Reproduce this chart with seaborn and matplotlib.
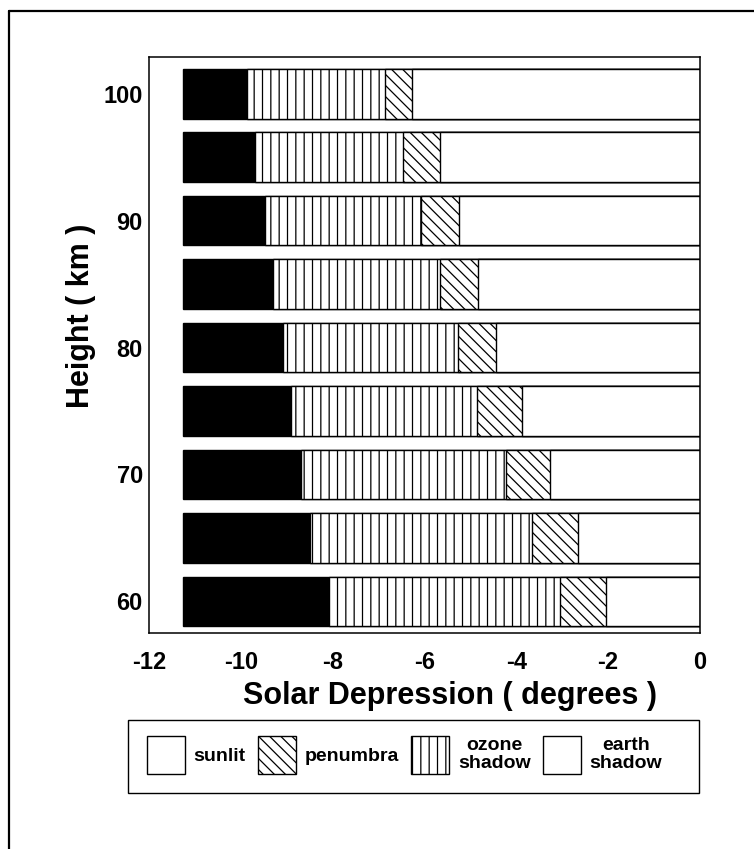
import matplotlib
matplotlib.use("Agg")
import matplotlib.pyplot as plt
from matplotlib.patches import Patch, Rectangle
from matplotlib.lines import Line2D
import pandas as pd
import seaborn as sns

# alturas (km) y limites de cada zona (grados de depresion solar)
heights = [100, 95, 90, 85, 80, 75, 70, 65, 60]
bar_start = [-11.25, -11.25, -11.25, -11.25, -11.25, -11.25, -11.25, -11.25, -11.25]
earth_end = [-9.87, -9.70, -9.48, -9.29, -9.09, -8.90, -8.68, -8.49, -8.07]
ozone_end = [-6.86, -6.47, -6.08, -5.67, -5.28, -4.86, -4.23, -3.65, -3.04]
penumbra_end = [-6.27, -5.67, -5.25, -4.84, -4.45, -3.87, -3.26, -2.65, -2.04]

legend_labels = ["sunlit", "penumbra", "ozone\nshadow", "earth\nshadow"]
x_ticks = [-12, -10, -8, -6, -4, -2, 0]
y_ticks = [60, 70, 80, 90, 100]

sns.set_theme(style="white")
plt.rcParams["font.family"] = ["Liberation Sans", "DejaVu Sans"]
plt.rcParams["font.weight"] = "bold"
plt.rcParams["hatch.linewidth"] = 0.9
for k in ["text.color", "axes.labelcolor", "xtick.color", "ytick.color"]:
    plt.rcParams[k] = "black"

df = pd.DataFrame({
    "height": heights,
    "start": bar_start,
    "earth": earth_end,
    "ozone": ozone_end,
    "penumbra": penumbra_end,
})

fig = plt.figure(figsize=(7.54, 8.49), dpi=100)
ax = fig.add_axes([149 / 754, 1 - 633 / 849, 551 / 754, 576 / 849])

# capas: cada barra va de 0 hasta el valor, se pintan de izquierda a derecha
layers = [
    ("start", "black", None),
    ("earth", "white", "||"),
    ("ozone", "white", "\\\\\\"),
    ("penumbra", "white", None),
]
for col, color, hatch in layers:
    sns.barplot(data=df, x=col, y="height", orient="h", native_scale=True,
                color=color, saturation=1, width=0.78, edgecolor="black",
                linewidth=1.0, hatch=hatch, ax=ax)

ax.set_xlim(-12, 0)
ax.set_ylim(57.5, 102.9)
ax.set_xticks(x_ticks)
ax.set_xticklabels([str(t) for t in x_ticks])
ax.set_yticks(y_ticks)
ax.set_yticklabels([str(t) for t in y_ticks])
ax.tick_params(axis="both", length=0, labelsize=17)
ax.tick_params(axis="x", pad=13)
ax.tick_params(axis="y", pad=4.5)
for lab in ax.get_xticklabels() + ax.get_yticklabels():
    lab.set_fontweight("bold")
for sp in ax.spines.values():
    sp.set_color("black")
    sp.set_linewidth(1.1)

ax.set_xlabel("Solar Depression ( degrees )", fontsize=22, fontweight="bold")
ax.set_ylabel("Height ( km )", fontsize=22, fontweight="bold")
ax.xaxis.set_label_coords((450 - 149) / 551, -0.083)
ax.yaxis.set_label_coords(-0.096, 0.55)

# leyenda
handles = [
    Patch(facecolor="white", edgecolor="black", linewidth=1.0),
    Patch(facecolor="white", edgecolor="black", linewidth=1.0, hatch="\\\\\\"),
    Patch(facecolor="white", edgecolor="black", linewidth=1.0, hatch="||"),
    Patch(facecolor="white", edgecolor="black", linewidth=1.0),
]
leg = fig.legend(handles, legend_labels, loc="center left", ncol=4,
                 bbox_to_anchor=(137 / 754, 1 - 755 / 849),
                 frameon=False, borderpad=0,
                 prop={"size": 14, "weight": "bold"},
                 handlelength=1.95, handleheight=2.56, handletextpad=0.46,
                 columnspacing=0.62)
for t in leg.get_texts():
    t.set_multialignment("center")
    t.set_linespacing(1.05)

fig.add_artist(Rectangle((128 / 754, 1 - 793 / 849), 571 / 754, 73 / 849,
                         transform=fig.transFigure, fill=False,
                         edgecolor="black", linewidth=1.0))

# marco exterior de la figura
fig.add_artist(Line2D([9 / 754, 1], [1 - 11 / 849, 1 - 11 / 849],
                      transform=fig.transFigure, color="black", linewidth=1.6))
fig.add_artist(Line2D([9 / 754, 9 / 754], [0, 1 - 11 / 849],
                      transform=fig.transFigure, color="black", linewidth=1.6))

fig.savefig("out.png", dpi=100)
